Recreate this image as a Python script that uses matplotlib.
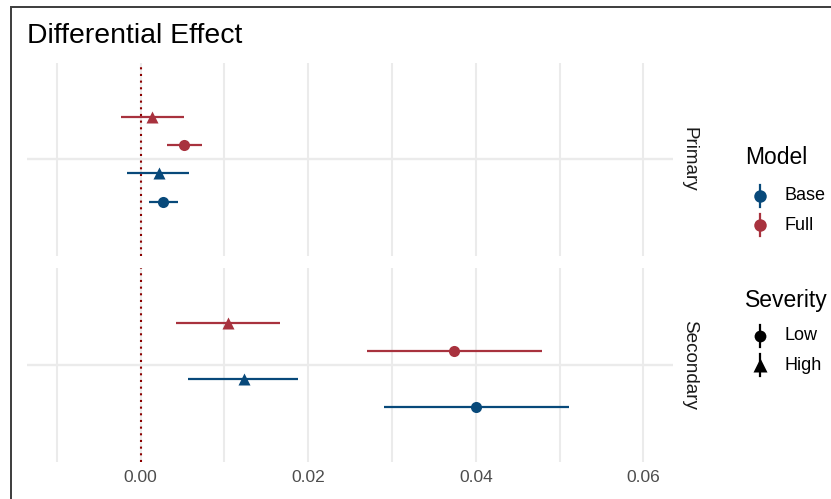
import matplotlib
matplotlib.use("Agg")
import matplotlib.pyplot as plt
import numpy as np
from matplotlib.patches import Rectangle

plt.rcParams['font.family'] = ['Liberation Sans', 'DejaVu Sans']

# data
outcomes = ["Primary", "Secondary"]
models = ["Base", "Full"]
severities = ["Low", "High"]

base_low_est = [0.0027, 0.0400]
base_low_lo = [0.0010, 0.0290]
base_low_hi = [0.0045, 0.0511]

base_high_est = [0.0022, 0.0123]
base_high_lo = [-0.0016, 0.0056]
base_high_hi = [0.0058, 0.0188]

full_low_est = [0.0052, 0.0374]
full_low_lo = [0.0032, 0.0270]
full_low_hi = [0.0073, 0.0479]

full_high_est = [0.0014, 0.0104]
full_high_lo = [-0.0024, 0.0042]
full_high_hi = [0.0052, 0.0166]

x_ticks = [0.00, 0.02, 0.04, 0.06]
x_minor = [-0.01, 0.01, 0.03, 0.05]

model_colors = {"Base": "#08497A", "Full": "#A8323E"}
sev_markers = {"Low": "o", "High": "^"}

# groups in dodge order (bottom to top)
groups = [
    ("Base", "Low", base_low_est, base_low_lo, base_low_hi),
    ("Base", "High", base_high_est, base_high_lo, base_high_hi),
    ("Full", "Low", full_low_est, full_low_lo, full_low_hi),
    ("Full", "High", full_high_est, full_high_lo, full_high_hi),
]
dodge = 0.7
offsets = (np.arange(len(groups)) - (len(groups) - 1) / 2) * dodge / len(groups)

W, H = 831, 499
fig = plt.figure(figsize=(W / 100, H / 100), dpi=100)


def px_axes(x0, y0, x1, y1):
    return fig.add_axes([x0 / W, 1 - y1 / H, (x1 - x0) / W, (y1 - y0) / H])


panels = [px_axes(26.7, 62.7, 673.3, 256), px_axes(26.7, 268.3, 673.3, 461.7)]

for i, ax in enumerate(panels):
    for v in x_ticks + x_minor:
        ax.axvline(v, color="#EBEBEB", lw=1.5, zorder=0)
    ax.axhline(1, color="#EBEBEB", lw=1.7, zorder=0)
    ax.axvline(0, color="#8B0000", lw=1.5, ls=(0, (1, 2.2)), zorder=1)
    for off, (m, s, est, lo, hi) in zip(offsets, groups):
        y = 1 + off
        ax.plot([lo[i], hi[i]], [y, y], color=model_colors[m], lw=1.6,
                solid_capstyle="butt", zorder=2)
        ms = 9 if s == "High" else 8
        ax.plot(est[i], y, marker=sev_markers[s], color=model_colors[m],
                ms=ms, mec="none", zorder=3)
    ax.set_xlim(-0.0136, 0.06356)
    ax.set_ylim(0.4, 1.6)
    ax.set_yticks([])
    ax.set_xticks(x_ticks)
    ax.tick_params(length=0, pad=6, labelsize=12.5, labelcolor="#4D4D4D")
    if i == 0:
        ax.set_xticklabels([])
    else:
        ax.set_xticklabels(["0.00", "0.02", "0.04", "0.06"])
    for sp in ax.spines.values():
        sp.set_visible(False)
    ax.text(1.025, 0.5, outcomes[i], transform=ax.transAxes, rotation=-90,
            ha="center", va="center", fontsize=13.6, color="#1A1A1A")

fig.text(27 / W, 1 - 36 / H, "Differential Effect", fontsize=20.4,
         ha="left", va="center", color="black")

# legend drawn in pixel coordinates
lg = fig.add_axes([0, 0, 1, 1], facecolor="none")
lg.set_xlim(0, W)
lg.set_ylim(H, 0)
lg.axis("off")

lg.text(745, 157, "Model", fontsize=16.5, ha="left", va="center")
for m, yk in zip(models, [196, 225]):
    lg.plot([760, 760], [yk - 11, yk + 11], color=model_colors[m], lw=1.6)
    lg.plot(760, yk, marker="o", color=model_colors[m], ms=9, mec="none")
    lg.text(785, yk, m, fontsize=13, ha="left", va="center")

lg.text(745, 300, "Severity", fontsize=16.5, ha="left", va="center")
for s, yk in zip(severities, [336, 365]):
    lg.plot([760, 760], [yk - 11, yk + 11], color="black", lw=1.6)
    lg.plot(760, yk, marker=sev_markers[s], color="black",
            ms=9.5 if s == "High" else 8.5, mec="none")
    lg.text(785, yk, s, fontsize=13, ha="left", va="center")

# frame around the plot (only left and top show inside the image)
fig.add_artist(Rectangle((11 / W, -0.1), 1.0, 1.1 - 7 / H, fill=False,
                         transform=fig.transFigure, ec="#3C3C3C", lw=1.4))

fig.savefig("out.png", dpi=100)
